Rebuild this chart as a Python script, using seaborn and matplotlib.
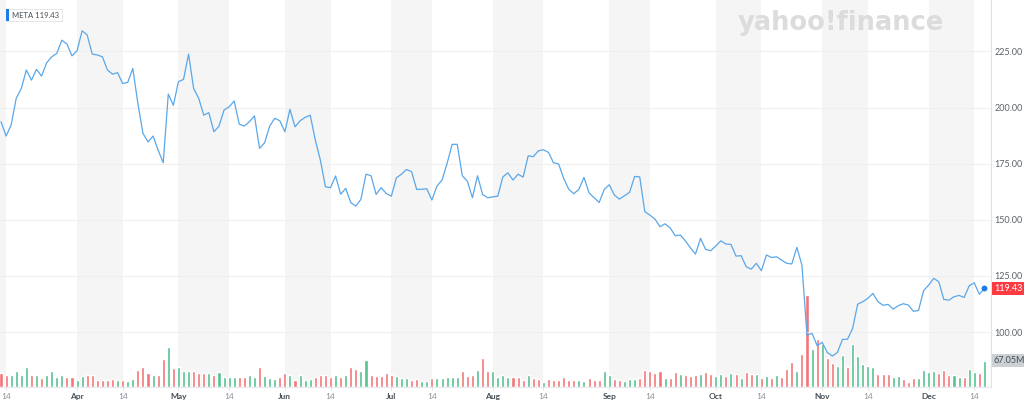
import numpy as np
import pandas as pd
import matplotlib
matplotlib.use("Agg")
import matplotlib.pyplot as plt
import matplotlib.transforms as mtransforms
from matplotlib.patches import Rectangle
import seaborn as sns

# trading calendar (NYSE holidays in the window)
start_day = "2022-03-11"
end_day = "2022-12-16"
holidays = ["2022-04-15", "2022-05-30", "2022-06-20", "2022-07-04",
            "2022-09-05", "2022-11-24"]

# daily close
close = [
    193.7, 187.3, 192.2, 204.1, 208.5, 216.7, 212.2, 217.0, 214.0, 219.9,
    222.6, 224.1, 230.0, 228.3, 223.0, 225.3, 234.2, 232.3, 223.8, 223.4,
    222.6, 216.7, 214.9, 215.5, 210.7, 211.2, 217.4, 201.8, 188.5, 184.7,
    187.3, 181.0, 175.4, 206.0, 201.0, 211.5, 212.5, 223.8, 208.5, 204.1,
    196.6, 197.7, 189.2, 191.7, 198.9, 200.3, 202.9, 192.6, 191.7, 193.7,
    196.3, 181.8, 184.3, 191.7, 195.2, 194.1, 189.2, 199.2, 191.4, 194.1,
    195.6, 196.6, 185.5, 176.6, 164.7, 164.3, 169.5,
    161.4, 164.0, 157.6, 156.1, 159.1, 170.3, 169.6, 161.3, 164.3, 161.7,
    160.5, 168.7, 170.3, 172.4, 171.4, 163.5, 163.6, 163.8, 158.8, 165.0,
    167.7, 175.1, 183.6, 183.6, 169.6, 167.2, 159.8, 169.6, 161.3, 159.8,
    160.2, 160.5, 169.1, 170.9, 167.7, 170.3, 169.0, 178.5, 178.1, 180.7,
    181.2, 180.0, 175.4, 174.9, 168.4, 163.6, 161.6, 163.6, 168.9, 162.0,
    159.8, 157.7, 163.5, 165.6, 161.0, 159.2, 160.7, 162.2, 169.3, 169.1,
    153.6, 152.1, 150.3, 146.9, 148.2, 146.4, 142.9,
    143.2, 140.6, 137.5, 134.7, 141.7, 136.8, 136.2, 138.3, 140.6, 139.2,
    139.0, 133.8, 134.0, 129.1, 128.0, 130.6, 127.3, 134.3, 133.2, 133.5,
    132.0, 130.6, 130.3, 137.7, 129.8, 98.6, 99.4, 93.9, 95.4, 90.9,
    89.3, 90.9, 96.7, 96.8, 101.6, 112.4, 113.5, 115.0, 117.2, 113.5,
    111.9, 112.3, 110.2, 111.7, 112.6, 112.0, 109.2, 109.6, 118.4, 120.9,
    123.9, 122.4, 114.5, 114.2, 115.7, 116.3, 115.4, 120.6, 121.9, 116.8,
    119.43,
]

# daily volume in millions
volume_m = [
    34.4, 31.0, 31.0, 40.4, 29.2, 51.6, 29.2, 31.0, 22.4, 31.0,
    40.4, 25.8, 31.0, 24.1, 24.1, 17.2, 27.5, 29.2, 29.2, 18.9,
    18.9, 18.9, 20.6, 17.2, 18.1, 15.5, 19.8, 42.1, 49.9, 36.1,
    29.2, 31.0, 70.5, 101.5, 48.2, 49.9, 41.3, 40.4, 41.3, 35.3,
    36.1, 34.4, 31.0, 37.8, 24.1, 25.8, 24.1, 24.1, 25.8, 31.0,
    24.1, 49.9, 27.5, 22.4, 20.6, 25.8, 36.1, 31.0, 17.2, 31.0,
    17.2, 20.6, 25.8, 29.2, 31.0, 25.8, 29.2,
    25.8, 31.0, 49.9, 46.4, 39.6, 68.8, 29.2, 27.5, 27.5, 34.4,
    31.0, 27.5, 22.4, 22.4, 18.9, 20.6, 15.5, 15.5, 22.4, 22.4,
    22.4, 25.8, 24.1, 25.8, 41.3, 27.5, 29.2, 43.0, 74.0, 41.3,
    39.6, 25.8, 31.0, 24.1, 25.8, 25.8, 17.2, 29.2, 22.4, 20.6,
    13.8, 20.6, 18.9, 17.2, 25.8, 17.2, 17.2, 18.9, 15.5, 22.4,
    18.9, 17.2, 39.6, 29.2, 20.6, 17.2, 15.5, 20.6, 20.6, 22.4,
    43.0, 41.3, 34.4, 39.6, 22.4,
    22.4, 37.0, 33.5, 30.1, 28.4, 30.1, 31.8, 38.7, 31.8, 28.4,
    33.5, 27.5, 36.1, 31.8, 22.4, 37.8, 33.5, 33.5, 22.4, 28.4,
    23.2, 30.1, 24.9, 45.6, 64.5, 39.6, 82.6, 233.0, 95.5, 121.3,
    108.4, 72.2, 61.1, 54.2, 80.8, 51.6, 108.4, 79.1, 59.3, 52.5,
    49.9, 31.8, 33.5, 31.8, 24.9, 27.5, 21.5, 12.0, 22.4, 22.4,
    43.0, 37.8, 39.6, 35.3, 43.9, 29.2, 29.2, 24.9, 24.9, 44.7,
    37.0, 34.4, 67.05,
]

# up / down day as coloured on the volume bars
moves = "".join([
    "dduuuudud", "u", "uuudduuddd", "ddduduuddd", "udduduuudd",
    "duduuuuddu", "uduuuddudu", "uuddddu",
    "dudduudddd", "duuudduudu", "uuuudddudd", "uuuudddudd",
    "udddddduud", "dduudduuud", "ddddu",
    "dduddduddu", "udududdudu", "duddduddud", "udduuduuuu",
    "uddduudddu", "uuuddduudu", "udu",
])

tick_dates = ["2022-03-14", "2022-04-01", "2022-04-14", "2022-05-01", "2022-05-14",
              "2022-06-01", "2022-06-14", "2022-07-01", "2022-07-14", "2022-08-01",
              "2022-08-14", "2022-09-01", "2022-09-14", "2022-10-01", "2022-10-14",
              "2022-11-01", "2022-11-14", "2022-12-01", "2022-12-14"]
tick_labels = ["14", "Apr", "14", "May", "14", "Jun", "14", "Jul", "14", "Aug",
               "14", "Sep", "14", "Oct", "14", "Nov", "14", "Dec", "14"]
price_ticks = [100, 125, 150, 175, 200, 225]

ticker = "META"

dates = pd.bdate_range(start_day, end_day, freq="C", holidays=holidays)
df = pd.DataFrame({"date": dates, "pos": np.arange(len(dates)),
                   "close": close, "vol": volume_m, "move": list(moves)})
tick_pos = dates.searchsorted(pd.to_datetime(tick_dates))

sns.set_theme(style="white")
plt.rcParams["font.family"] = ["Lato", "DejaVu Sans"]

W, H = 1024, 415
fig = plt.figure(figsize=(W / 100, H / 100), dpi=100)
ax_vol = fig.add_axes([0, 28 / H, 991 / W, 387 / H])
ax = ax_vol.twinx()

xmin, xmax = -0.2, 195.3

# month shading: first trading day to the 14th
ax_vol.axvspan(xmin, tick_pos[0], color="#f5f5f5", lw=0, zorder=0)
for a, b in zip(tick_pos[1::2], tick_pos[2::2]):
    ax_vol.axvspan(a, b, color="#f5f5f5", lw=0, zorder=0)

sns.barplot(data=df, x="pos", y="vol", hue="move",
            palette={"u": "#55c290", "d": "#f37477"},
            native_scale=True, dodge=False, width=0.6, saturation=1,
            errorbar=None, legend=False, ax=ax_vol)
ax_vol.set_ylim(0, 980)
ax_vol.set_yticks([])
ax_vol.set_ylabel("")
ax_vol.set_xlabel("")

sns.lineplot(data=df, x="pos", y="close", color="#5aa7ea", lw=0.9, ax=ax)
ax.scatter(df["pos"].iloc[-1], close[-1], s=18, color="#1a7de8", zorder=5, lw=0)

ax.set_xlim(xmin, xmax)
ax_vol.set_xlim(xmin, xmax)
ax.set_ylim(75.5, 247.9)
ax.set_yticks(price_ticks)
ax.set_yticklabels([f"{v:.2f}" for v in price_ticks])
ax.set_ylabel("")
ax.grid(axis="y", color="#efefef", lw=0.8)
ax.grid(axis="x", visible=False)
ax_vol.grid(False)
ax.tick_params(axis="y", length=0, pad=2.5, labelsize=6.5, labelcolor="#5b636a")

ax_vol.set_xticks(tick_pos)
ax_vol.set_xticklabels(tick_labels)
ax_vol.tick_params(axis="x", bottom=True, length=2.2, width=0.6, color="#d6dadf",
                   pad=2, labelsize=6)
for lab in ax_vol.get_xticklabels():
    if lab.get_text() == "14":
        lab.set_color("#8a9198")
    else:
        lab.set_color("#464e56")
        lab.set_fontweight("bold")

for a in (ax, ax_vol):
    for s in ("top", "left"):
        a.spines[s].set_visible(False)
ax_vol.spines["right"].set_visible(False)
ax.spines["bottom"].set_visible(False)
ax.spines["right"].set_color("#dfe3e8")
ax.spines["right"].set_linewidth(0.8)
ax_vol.spines["bottom"].set_color("#e6e9ed")
ax_vol.spines["bottom"].set_linewidth(0.8)

# last price / last volume flags on the right axis
tr_p = mtransforms.blended_transform_factory(ax.transAxes, ax.transData)
ax.text(1.003, close[-1], f"{close[-1]:.2f}", transform=tr_p, ha="left", va="center",
        fontsize=6.5, color="white",
        bbox=dict(boxstyle="square,pad=0.2", fc="#ff3b42", ec="none"))
tr_v = mtransforms.blended_transform_factory(ax_vol.transAxes, ax_vol.transData)
ax_vol.text(1.003, volume_m[-1], f"{volume_m[-1]:.2f}M", transform=tr_v, ha="left",
            va="center", fontsize=6.5, color="#464e56",
            bbox=dict(boxstyle="square,pad=0.2", fc="#ccd0d5", ec="none"))

# ticker chip, top left
fig.patches.append(Rectangle((6 / W, 1 - 21 / H), 56 / W, 12 / H, transform=fig.transFigure,
                             fc="white", ec="#e3e3e3", lw=0.6, zorder=3))
fig.patches.append(Rectangle((6 / W, 1 - 21 / H), 2.5 / W, 12 / H, transform=fig.transFigure,
                             fc="#1a7de8", ec="none", zorder=4))
fig.text(12.5 / W, 1 - 15 / H, f"{ticker} {close[-1]:.2f}", fontsize=5.5, color="#464e56",
         ha="left", va="center", zorder=5)

# watermark
fig.text(738 / W, 1 - 23 / H, "yahoo!finance", fontsize=18.5, fontweight="heavy",
         color="#dcdcdc", ha="left", va="center", family="DejaVu Sans", zorder=0)

fig.savefig("out.png", dpi=100)
